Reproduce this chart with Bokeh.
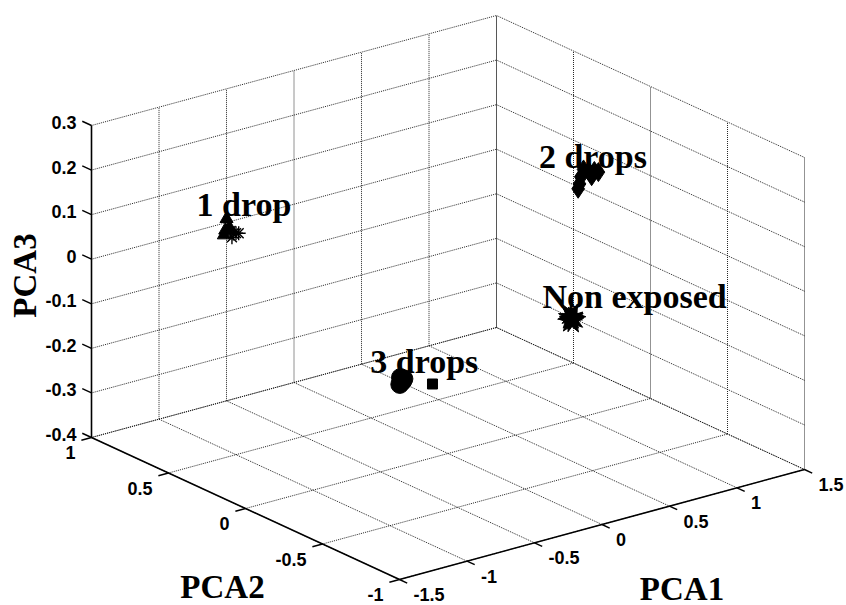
import numpy as np

from bokeh.plotting import figure
from bokeh.models import Range1d
from bokeh.core.properties import value
from bokeh.embed import file_html
from bokeh.resources import INLINE


# axis limits and ticks
pca1_lim = (-1.5, 1.5)
pca2_lim = (-1.0, 1.0)
pca3_lim = (-0.4, 0.3)

pca1_ticks = [-1.5, -1.0, -0.5, 0.0, 0.5, 1.0, 1.5]
pca1_labels = ["-1.5", "-1", "-0.5", "0", "0.5", "1", "1.5"]
pca2_ticks = [-1.0, -0.5, 0.0, 0.5, 1.0]
pca2_labels = ["-1", "-0.5", "0", "0.5", "1"]
pca3_ticks = [-0.4, -0.3, -0.2, -0.1, 0.0, 0.1, 0.2, 0.3]
pca3_labels = ["-0.4", "-0.3", "-0.2", "-0.1", "0", "0.1", "0.2", "0.3"]

# scores
drop1_tri_pca1 = [-1.07, -1.08, -1.05, -1.09]
drop1_tri_pca2 = [0.5, 0.5, 0.5, 0.5]
drop1_tri_pca3 = [0.135, 0.11, 0.115, 0.10]
drop1_ast_pca1 = [-1.04, -1.02, -1.00, -0.98, -1.03]
drop1_ast_pca2 = [0.5, 0.5, 0.5, 0.5, 0.5]
drop1_ast_pca3 = [0.105, 0.098, 0.097, 0.095, 0.09]

drop2_pca1 = [0.85, 0.87, 0.89, 0.93, 0.97, 1.00, 0.86, 0.95]
drop2_pca2 = [-0.1, -0.1, -0.1, -0.1, -0.1, -0.1, -0.1, -0.1]
drop2_pca3 = [0.14, 0.165, 0.18, 0.172, 0.17, 0.165, 0.15, 0.16]

nonexp_pca1 = [0.91, 0.92, 0.905, 0.925, 0.915]
nonexp_pca2 = [0.0, 0.0, 0.0, 0.0, 0.0]
nonexp_pca3 = [-0.17, -0.175, -0.165, -0.168, -0.178]

drop3_circ_pca1 = [-0.58, -0.565, -0.585, -0.555]
drop3_circ_pca2 = [-0.2, -0.2, -0.2, -0.2]
drop3_circ_pca3 = [-0.15, -0.16, -0.165, -0.155]
drop3_sq_pca1 = [-0.55, -0.343]
drop3_sq_pca2 = [-0.2, -0.2]
drop3_sq_pca3 = [-0.16, -0.184]

W, H = 846, 605

# view: screen point of the lower corner and screen vector of each full axis range
ORIGIN = (399.0, 26.0)
SPAN1 = (405.0, 110.0)
SPAN2 = (-308.0, 142.0)
SPAN3 = (0.0, 312.0)


def proj(a, b, c):
    a = (np.asarray(a, float) - pca1_lim[0]) / (pca1_lim[1] - pca1_lim[0])
    b = (np.asarray(b, float) - pca2_lim[0]) / (pca2_lim[1] - pca2_lim[0])
    c = (np.asarray(c, float) - pca3_lim[0]) / (pca3_lim[1] - pca3_lim[0])
    u = ORIGIN[0] + a * SPAN1[0] + b * SPAN2[0] + c * SPAN3[0]
    v = ORIGIN[1] + a * SPAN1[1] + b * SPAN2[1] + c * SPAN3[1]
    return u, v


def seg(p, q):
    u, v = proj([p[0], q[0]], [p[1], q[1]], [p[2], q[2]])
    return list(u), list(v)


p = figure(width=W, height=H, x_range=Range1d(0, W), y_range=Range1d(0, H),
           output_backend="svg", toolbar_location=None, min_border=0,
           x_axis_location=None, y_axis_location=None)
p.grid.visible = False
p.outline_line_color = None

x0, x1 = pca1_lim
y0, y1 = pca2_lim
z0, z1 = pca3_lim

# dotted grid on the two back walls and the floor
xs, ys = [], []
for t in pca1_ticks:
    for s in (seg((t, y1, z0), (t, y1, z1)), seg((t, y0, z0), (t, y1, z0))):
        xs.append(s[0]); ys.append(s[1])
for t in pca2_ticks:
    for s in (seg((x1, t, z0), (x1, t, z1)), seg((x0, t, z0), (x1, t, z0))):
        xs.append(s[0]); ys.append(s[1])
for t in pca3_ticks:
    for s in (seg((x0, y1, t), (x1, y1, t)), seg((x1, y0, t), (x1, y1, t))):
        xs.append(s[0]); ys.append(s[1])
p.multi_line(xs, ys, line_color="#111111", line_width=1, line_dash="1 1", line_alpha=0.9)

# solid axes
axes = [seg((x0, y1, z0), (x0, y1, z1)), seg((x0, y0, z0), (x0, y1, z0)), seg((x0, y0, z0), (x1, y0, z0))]
p.multi_line([a[0] for a in axes], [a[1] for a in axes], line_color="black", line_width=1.6)

# tick marks
tx, ty = [], []
for t in pca3_ticks:
    s = seg((x0, y1, t), (x0, y1 + 0.06, t)); tx.append(s[0]); ty.append(s[1])
for t in pca2_ticks:
    s = seg((x0, t, z0), (x0 - 0.075, t, z0)); tx.append(s[0]); ty.append(s[1])
for t in pca1_ticks:
    s = seg((t, y0, z0), (t, y0 - 0.05, z0)); tx.append(s[0]); ty.append(s[1])
p.multi_line(tx, ty, line_color="black", line_width=1.4)

tick_font = dict(text_font=value("Liberation Sans"), text_font_style="bold",
                 text_font_size="18px", text_color="black", text_baseline="middle")

u, v = proj([x0] * len(pca3_ticks), [y1] * len(pca3_ticks), pca3_ticks)
p.text(u - 15, v + 3, text=pca3_labels, text_align="right", **tick_font)
u, v = proj([x0] * len(pca2_ticks), pca2_ticks, [z0] * len(pca2_ticks))
p.text(u - 16, v - 15, text=pca2_labels, text_align="right", **tick_font)
u, v = proj(pca1_ticks, [y0] * len(pca1_ticks), [z0] * len(pca1_ticks))
p.text(u + 14, v - 15, text=pca1_labels, text_align="left", **tick_font)

# axis titles
serif = dict(text_font=value("Liberation Serif"), text_font_style="bold", text_color="black")
u, v = proj(x0, y1, (z0 + z1) / 2)
p.text([u - 67], [v + 6], text=["PCA3"], angle=np.pi / 2, text_align="center",
       text_baseline="middle", text_font_size="33px", **serif)
u, v = proj(x0, 0.0, z0)
p.text([u - 23], [v - 78], text=["PCA2"], text_align="center",
       text_baseline="middle", text_font_size="33px", **serif)
u, v = proj(0.0, y0, z0)
p.text([u + 80], [v - 64], text=["PCA1"], text_align="center",
       text_baseline="middle", text_font_size="33px", **serif)

# points
u, v = proj(drop1_tri_pca1, drop1_tri_pca2, drop1_tri_pca3)
p.scatter(u, v, marker="triangle", size=13, fill_color="black", line_color="black")
u, v = proj(drop1_ast_pca1, drop1_ast_pca2, drop1_ast_pca3)
p.scatter(u, v, marker="asterisk", size=14, line_color="black", line_width=1.4)

u, v = proj(drop2_pca1, drop2_pca2, drop2_pca3)
p.scatter(u, v, marker="diamond", size=19, fill_color="black", line_color="black")

u, v = proj(nonexp_pca1, nonexp_pca2, nonexp_pca3)
p.scatter(u, v, marker="star", size=26, angle=[0, 0.3, 0.6, 0.9, 1.2],
          fill_color="black", line_color="black")

u, v = proj(drop3_circ_pca1, drop3_circ_pca2, drop3_circ_pca3)
p.scatter(u, v, marker="circle", size=18, fill_color="black", line_color="black")
u, v = proj(drop3_sq_pca1, drop3_sq_pca2, drop3_sq_pca3)
p.scatter(u, v, marker="square", size=10, fill_color="black", line_color="black")

# cluster names, placed relative to each cluster's centre
groups = [
    ("1 drop", drop1_tri_pca1 + drop1_ast_pca1, drop1_tri_pca2 + drop1_ast_pca2,
     drop1_tri_pca3 + drop1_ast_pca3, (-34, 27)),
    ("2 drops", drop2_pca1, drop2_pca2, drop2_pca3, (-48, 20)),
    ("Non exposed", nonexp_pca1, nonexp_pca2, nonexp_pca3, (-29, 21)),
    ("3 drops", drop3_circ_pca1 + drop3_sq_pca1, drop3_circ_pca2 + drop3_sq_pca2,
     drop3_circ_pca3 + drop3_sq_pca3, (-37, 20)),
]
lx, ly, lt = [], [], []
for name, a, b, c, off in groups:
    u, v = proj(np.mean(a), np.mean(b), np.mean(c))
    lx.append(float(u) + off[0]); ly.append(float(v) + off[1]); lt.append(name)
p.text(lx, ly, text=lt, text_align="left", text_baseline="alphabetic",
       text_font_size="34px", **serif)

open("out.html", "w").write(file_html(p, INLINE))
